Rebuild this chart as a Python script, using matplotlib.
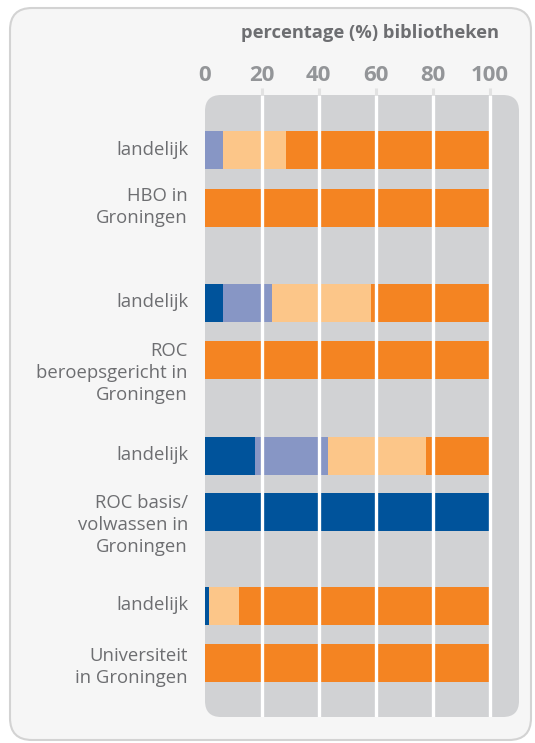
import matplotlib
matplotlib.use("Agg")
import matplotlib.pyplot as plt
from matplotlib.patches import FancyBboxPatch
import numpy as np

plt.rcParams['font.family'] = ['Open Sans', 'DejaVu Sans']

# ---- data ----
categories = ["landelijk", "HBO in\nGroningen",
              "landelijk", "ROC\nberoepsgericht in\nGroningen",
              "landelijk", "ROC basis/\nvolwassen in\nGroningen",
              "landelijk", "Universiteit\nin Groningen"]
dark_blue = [0.0, 0.0, 6.3, 0.0, 17.6, 100.0, 1.5, 0.0]
purple = [6.3, 0.0, 17.3, 0.0, 25.7, 0.0, 0.0, 0.0]
light_orange = [22.2, 0.0, 34.8, 0.0, 34.5, 0.0, 10.3, 0.0]
orange = [71.5, 100.0, 41.6, 100.0, 22.2, 0.0, 88.2, 100.0]
x_ticks = [0, 20, 40, 60, 80, 100]
x_tick_labels = ["0", "20", "40", "60", "80", "100"]
title = "percentage (%) bibliotheken"

# ---- layout (pixel-row units) ----
bar_pos = [150, 208, 303, 360, 456, 512, 606, 663]
label_pos = [150, 207, 302, 373, 455, 525, 605, 667]
bar_h = 38

colors = ["#00539b", "#8796c5", "#fcc689", "#f48422"]
W, H = 535, 743
fig = plt.figure(figsize=(W / 100, H / 100), dpi=100)
fig.patch.set_facecolor("white")

# outer rounded box
outer = FancyBboxPatch((10 / W, 1 - 740 / H), (531 - 10) / W, (740 - 8) / H,
                       boxstyle="round,pad=0,rounding_size=%f" % (22 / W),
                       mutation_aspect=W / H, transform=fig.transFigure,
                       facecolor="#f6f6f6", edgecolor="#d3d3d3", lw=1.5, zorder=-5)
fig.patches.append(outer)

ax_l, ax_r, ax_t, ax_b = 205, 519, 95, 717
ax = fig.add_axes([ax_l / W, 1 - ax_b / H, (ax_r - ax_l) / W, (ax_b - ax_t) / H], zorder=2)
ax.set_facecolor("none")
xmax = (ax_r - ax_l) / 2.845
ax.set_xlim(0, xmax)
ax.set_ylim(ax_b, ax_t)
for s in ax.spines.values():
    s.set_visible(False)

aw, ah = ax_r - ax_l, ax_b - ax_t
panel = FancyBboxPatch((0, 0), 1, 1, boxstyle="round,pad=0,rounding_size=%f" % (16 / aw),
                       mutation_aspect=aw / ah, transform=ax.transAxes,
                       facecolor="#d1d2d4", edgecolor="none", zorder=0)
ax.add_patch(panel)

left = np.zeros(len(categories))
for vals, c in zip([dark_blue, purple, light_orange, orange], colors):
    v = np.array(vals)
    ax.barh(bar_pos, v, left=left, height=bar_h, color=c, edgecolor="none", zorder=2)
    left += v

# grid lines
ax.vlines(x_ticks[1:], ax_t, ax_b, colors="white", lw=2.4, zorder=3)
ax.vlines(x_ticks[1:], 88, ax_t, colors="#e2e2e2", lw=2.2, zorder=3, clip_on=False)

# ticks on top
ax.xaxis.tick_top()
ax.set_xticks(x_ticks)
ax.set_xticklabels(x_tick_labels, fontsize=16, fontweight="bold", color="#939598")
ax.tick_params(axis="x", length=0, pad=6.5)
ax.set_yticks([])

for y, lab in zip(label_pos, categories):
    ax.text(-17 / 2.845, y, lab, ha="right", va="center", fontsize=13.3,
            color="#6d6e71", linespacing=1.3, clip_on=False)

fig.text(370 / W, 1 - 33 / H, title, ha="center", va="center", fontsize=13.2,
         fontweight="bold", color="#6d6e71")

fig.savefig("out.png", dpi=100)
